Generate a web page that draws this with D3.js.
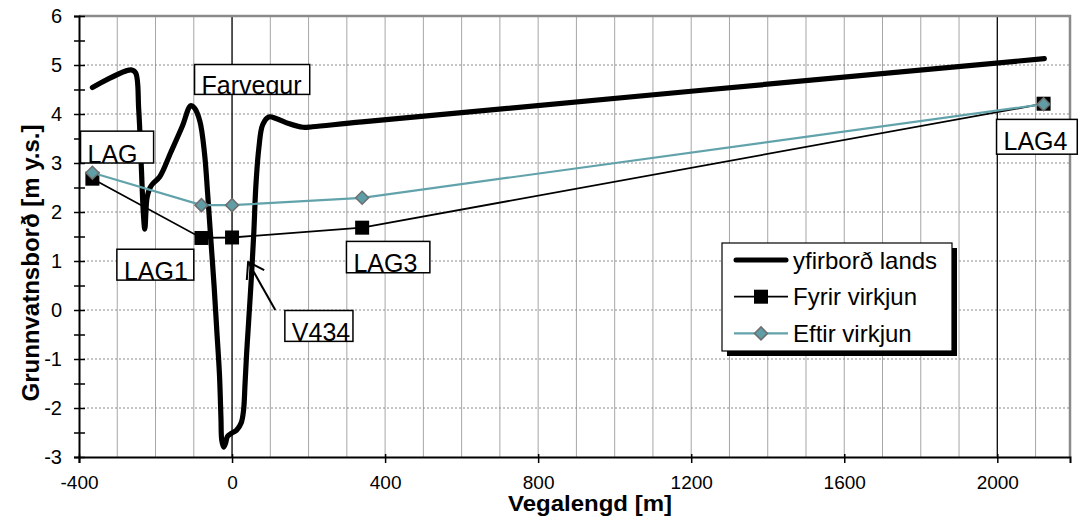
<!DOCTYPE html>
<html>
<head>
<meta charset="utf-8">
<script src="https://cdn.jsdelivr.net/npm/d3@7"></script>
<style>
  body { margin: 0; background: #fff; }
  text { font-family: "Liberation Sans", Arial, sans-serif; }
</style>
</head>
<body>
<div class="chart"></div>
<script>
// yfirborð lands (ground surface), [distance m, elevation m y.s.]
var landX = [-365, -264, -252, -244, -237, -232, -228, -222, -214, -207, -189, -160, -130, -108, -98, -84, -72, -64, -56,
  -47, -40, -33, -29, -27, -22, -17, -12, -2, 12, 24, 30, 34, 38, 42, 50, 57, 62, 70, 80, 96, 115, 150, 185, 210, 340, 2123];
var landY = [4.54, 4.90, 4.84, 4.10, 2.90, 2.00, 1.65, 2.30, 2.50, 2.58, 2.72, 3.22, 3.75, 4.17, 4.12, 3.85, 3.20, 2.40, 1.50,
  0.50, -0.40, -1.30, -2.20, -2.65, -2.80, -2.72, -2.58, -2.52, -2.45, -2.30, -2.05, -1.50, -0.90, -0.40, 0.60, 1.60, 2.50,
  3.30, 3.78, 3.94, 3.91, 3.80, 3.73, 3.74, 3.84, 5.13];

// wells
var wellX = [-365, -80, 0, 340, 2121];
var fyrirY = [2.68, 1.47, 1.48, 1.68, 4.21];
var eftirY = [2.80, 2.14, 2.14, 2.29, 4.20];

var xTicks = [-400, 0, 400, 800, 1200, 1600, 2000];
var yTicks = [-3, -2, -1, 0, 1, 2, 3, 4, 5, 6];
var refLines = [0, 2000];

// text boxes: corners in data units
var labels = [
  {t: "LAG", x1: -396, x2: -205, y1: 3.65, y2: 3.0},
  {t: "Farvegur", x1: -98, x2: 203, y1: 5.01, y2: 4.40},
  {t: "LAG1", x1: -301, x2: -100, y1: 1.24, y2: 0.61},
  {t: "V434", x1: 138, x2: 316, y1: -0.01, y2: -0.64},
  {t: "LAG3", x1: 299, x2: 517, y1: 1.40, y2: 0.76},
  {t: "LAG4", x1: 1998, x2: 2209, y1: 3.89, y2: 3.18, pad: 3.3}
];

var W = 1081, H = 516;
var margin = {top: 16, right: 11, bottom: 59, left: 79},
    width = W - margin.left - margin.right,
    height = H - margin.top - margin.bottom;

var x = d3.scaleLinear().domain([-400, 2190]).range([0, width]);
var y = d3.scaleLinear().domain([-3, 6]).range([height, 0]);

var svg = d3.select(".chart").append("svg")
    .attr("width", W)
    .attr("height", H);

var defs = svg.append("defs");
defs.append("marker")
    .attr("id", "arrow")
    .attr("viewBox", "-17 -11 18 22")
    .attr("markerUnits", "userSpaceOnUse")
    .attr("markerWidth", 18)
    .attr("markerHeight", 22)
    .attr("refX", 0).attr("refY", 0)
    .attr("orient", "auto")
  .append("path")
    .attr("d", "M-15,-10L0,0L-15,10")
    .style("fill", "none")
    .style("stroke", "#000")
    .style("stroke-width", 2);

var g = svg.append("g")
    .attr("transform", "translate(" + margin.left + "," + margin.top + ")");

// vertical grid every 100 m
g.append("g").selectAll("line")
    .data(d3.range(-300, 2190, 100))
  .enter().append("line")
    .attr("x1", function(d) { return x(d); })
    .attr("x2", function(d) { return x(d); })
    .attr("y1", 0).attr("y2", height)
    .style("stroke", "#a6a6a6")
    .style("stroke-width", 1);

// horizontal dotted grid
g.append("g").selectAll("line")
    .data(yTicks.slice(1, -1))
  .enter().append("line")
    .attr("x1", 0).attr("x2", width)
    .attr("y1", function(d) { return y(d); })
    .attr("y2", function(d) { return y(d); })
    .style("stroke", "#8c8c8c")
    .style("stroke-dasharray", "2,2")
    .style("stroke-width", 1);

// black reference lines
g.append("g").selectAll("line")
    .data(refLines)
  .enter().append("line")
    .attr("x1", function(d) { return x(d); })
    .attr("x2", function(d) { return x(d); })
    .attr("y1", 0).attr("y2", height)
    .style("stroke", "#000")
    .style("stroke-width", 1.2);

// plot frame (top, right)
g.append("path")
    .attr("d", "M0,0H" + width + "V" + height)
    .style("fill", "none")
    .style("stroke", "#8a8a8a")
    .style("stroke-width", 2.5);

// land surface
var land = landX.map(function(d, i) { return [d, landY[i]]; });
var landLine = d3.line()
    .x(function(d) { return x(d[0]); })
    .y(function(d) { return y(d[1]); })
    .curve(d3.curveCatmullRom.alpha(0.5));
g.append("path")
    .datum(land)
    .attr("d", landLine)
    .style("fill", "none")
    .style("stroke", "#000")
    .style("stroke-width", 5.2)
    .style("stroke-linejoin", "round")
    .style("stroke-linecap", "round");

var ptLine = d3.line()
    .x(function(d) { return x(d[0]); })
    .y(function(d) { return y(d[1]); });

// Fyrir virkjun
var fyrir = wellX.map(function(d, i) { return [d, fyrirY[i]]; });
g.append("path")
    .datum(fyrir)
    .attr("d", ptLine)
    .style("fill", "none")
    .style("stroke", "#000")
    .style("stroke-width", 1.8);
g.append("g").selectAll("rect")
    .data(fyrir)
  .enter().append("rect")
    .attr("x", function(d) { return x(d[0]) - 7; })
    .attr("y", function(d) { return y(d[1]) - 7; })
    .attr("width", 14).attr("height", 14)
    .style("fill", "#000");

// Eftir virkjun
var eftir = wellX.map(function(d, i) { return [d, eftirY[i]]; });
g.append("path")
    .datum(eftir)
    .attr("d", ptLine)
    .style("fill", "none")
    .style("stroke", "#62a3ab")
    .style("stroke-width", 2.2);
var diamond = "M0,-6.5L6.5,0L0,6.5L-6.5,0Z";
g.append("g").selectAll("path")
    .data(eftir)
  .enter().append("path")
    .attr("d", diamond)
    .attr("transform", function(d) { return "translate(" + x(d[0]) + "," + y(d[1]) + ")"; })
    .style("fill", "#5f9ea6")
    .style("stroke", "#6e6e6e")
    .style("stroke-width", 1.5);

// axes
var xAxis = g.append("g")
    .attr("transform", "translate(0," + height + ")")
    .call(d3.axisBottom(x).tickValues(xTicks).tickSize(6).tickPadding(13)
      .tickFormat(function(d) { return String(d); }));
xAxis.select(".domain").style("stroke", "#000").style("stroke-width", 2);
xAxis.selectAll(".tick line").attr("y1", -3).style("stroke-width", 1.5);
xAxis.selectAll(".tick text")
    .style("font-size", "19px")
    .style("font-family", "'Liberation Sans', Arial, sans-serif");

var yAxis = g.append("g")
    .call(d3.axisLeft(y).tickValues(d3.range(-3, 6.01, 0.5)).tickSize(5).tickPadding(12)
      .tickFormat(function(d) { return d % 1 === 0 ? String(d) : ""; }));
yAxis.select(".domain").style("stroke", "#000").style("stroke-width", 2);
yAxis.selectAll(".tick line").attr("x1", 6).style("stroke-width", 1.5);
yAxis.selectAll(".tick text")
    .style("font-size", "20px")
    .style("font-family", "'Liberation Sans', Arial, sans-serif");

// axis titles
svg.append("text")
    .attr("x", 590).attr("y", 511)
    .attr("text-anchor", "middle")
    .attr("textLength", 164)
    .attr("lengthAdjust", "spacingAndGlyphs")
    .style("font-size", "22px")
    .style("font-weight", "bold")
    .text("Vegalengd [m]");

svg.append("text")
    .attr("transform", "translate(38.5,263) rotate(-90)")
    .attr("text-anchor", "middle")
    .attr("textLength", 277)
    .attr("lengthAdjust", "spacingAndGlyphs")
    .style("font-size", "23px")
    .style("font-weight", "bold")
    .text("Grunnvatnsborð [m y.s.]");

// V434 arrow
g.append("line")
    .attr("x1", x(113)).attr("y1", y(0.0))
    .attr("x2", x(42)).attr("y2", y(0.98))
    .attr("marker-end", "url(#arrow)")
    .style("stroke", "#000")
    .style("stroke-width", 2);

// text boxes
labels.forEach(function(d, i) {
  var bx = x(d.x1), by = y(d.y1), bw = x(d.x2) - x(d.x1), bh = y(d.y2) - y(d.y1);
  defs.append("clipPath").attr("id", "clip" + i)
    .append("rect").attr("x", bx).attr("y", by).attr("width", bw).attr("height", bh);
  var lg = g.append("g");
  lg.append("rect")
      .attr("x", bx).attr("y", by).attr("width", bw).attr("height", bh)
      .style("fill", "#fff");
  lg.append("text")
      .attr("clip-path", "url(#clip" + i + ")")
      .attr("x", bx + 7)
      .attr("y", by + bh - 0.5 - (d.pad || 0))
      .style("font-size", "25px")
      .text(d.t);
  lg.append("rect")
      .attr("x", bx).attr("y", by).attr("width", bw).attr("height", bh)
      .style("fill", "none")
      .style("stroke", "#000")
      .style("stroke-width", 1.5);
});

// legend
var legendItems = ["yfirborð lands", "Fyrir virkjun", "Eftir virkjun"];
var lg = svg.append("g").attr("transform", "translate(722,243)");
lg.append("rect").attr("x", 5).attr("y", 5).attr("width", 230).attr("height", 108).style("fill", "#000");
lg.append("rect").attr("width", 230).attr("height", 108)
    .style("fill", "#fff").style("stroke", "#000").style("stroke-width", 1.2);
legendItems.forEach(function(name, i) {
  var cy = 17 + i * 36.7;
  var it = lg.append("g").attr("transform", "translate(0," + cy + ")");
  if (i === 0) {
    it.append("line").attr("x1", 14).attr("x2", 64)
      .style("stroke", "#000").style("stroke-width", 5).style("stroke-linecap", "round");
  } else if (i === 1) {
    it.append("line").attr("x1", 12).attr("x2", 66).style("stroke", "#000").style("stroke-width", 1.8);
    it.append("rect").attr("x", 32).attr("y", -7).attr("width", 14).attr("height", 14).style("fill", "#000");
  } else {
    it.append("line").attr("x1", 12).attr("x2", 66).style("stroke", "#62a3ab").style("stroke-width", 2.2);
    it.append("path").attr("d", diamond).attr("transform", "translate(39,0)")
      .style("fill", "#5f9ea6").style("stroke", "#6e6e6e").style("stroke-width", 1.5);
  }
  it.append("text")
      .attr("x", 71).attr("y", 8.5)
      .style("font-size", "24px")
      .text(name);
});
</script>
</body>
</html>
